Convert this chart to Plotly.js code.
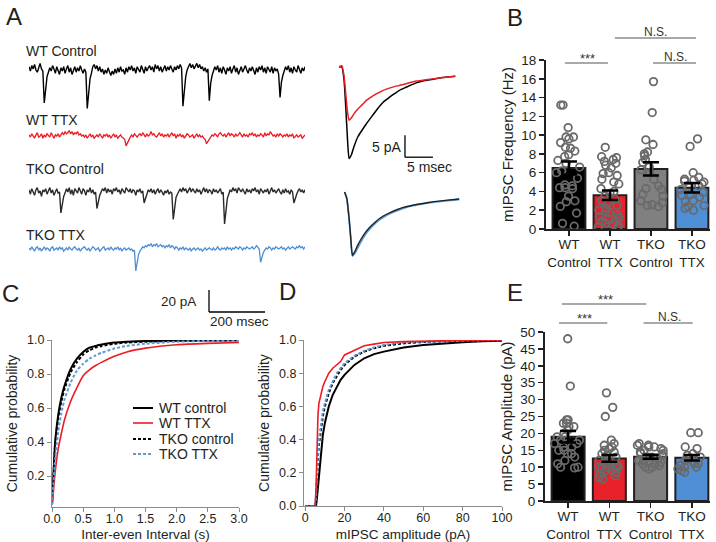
<!DOCTYPE html>
<html><head><meta charset="utf-8">
<script src="https://cdn.plot.ly/plotly-3.0.1.min.js"></script>
<style>html,body{margin:0;padding:0;background:#fff}#chart{width:716px;height:542px}</style>
</head><body><div id="chart"></div>
<script>
// ---------------- DATA ----------------
const groups = ['WT<br>Control', 'WT<br>TTX', 'TKO<br>Control', 'TKO<br>TTX'];

// Panel B: mIPSC frequency (Hz)
const freqWTControl = [13.2,13.2,10.8,9.8,9.8,9.6,9.2,8.7,8.6,8.3,7.9,7.7,7.3,7.0,6.6,6.2,6.0,5.4,4.7,4.6,4.4,4.4,4.3,3.5,3.0,2.9,2.4,1.7,0.6,0.3];
const freqWTTTX = [8.7,7.7,7.6,7.4,7.2,7.0,6.8,6.5,6.0,5.9,5.7,5.3,5.0,4.8,4.3,4.0,3.8,3.5,3.2,3.0,2.8,2.5,2.2,2.0,1.9,1.8,1.5,1.3,1.2,1.0,0.9,0.8,0.6,0.5,0.3,0.2,0.1];
const freqTKOControl = [15.7,12.4,9.5,9.0,8.2,8.0,7.8,7.4,7.1,6.6,6.3,6.0,5.3,4.6,4.3,4.2,3.7,3.5,3.0,2.8,2.6,2.5,2.4];
const freqTKOTTX = [9.6,8.8,6.0,5.5,5.3,5.2,5.1,5.0,4.8,4.6,4.4,4.2,3.9,3.7,3.6,3.4,3.0,2.9,2.5,2.4,2.2,2.0];
const freqMean = [6.5, 3.6, 6.4, 4.4];
const freqSem = [0.7, 0.5, 0.7, 0.5];

// Panel E: mIPSC amplitude (pA)
const ampWTControl = [48,34,24,24,23,23,22,22,21,20,19,19,18,18,17,17,16,16,15,15,14,14,13,12,11,10,10,9.8];
const ampWTTTX = [32,27.7,25,18,17,16.5,16,15.5,15,14.5,14,13.5,13,12,12,11,11,10.5,10,10,10,9.8,9.5,9,9,8.5,8,7.5,7,6.5];
const ampTKOControl = [17,16.5,16.5,16,16,15.5,15,15,14.5,14,14,13.5,13,13,12.5,12,12,11.5,11,11,10.5,10,10,9.5];
const ampTKOTTX = [20.2,20.2,16,15.5,14,13.5,13,12.5,12,11.5,11,11,10.5,10,10,9.5,9,8.5];
const ampMean = [19.0, 12.6, 13.1, 12.8];
const ampSem = [1.7, 1.0, 0.6, 0.8];

// Panel C: cumulative probability vs inter-event interval (s)
const iviX = [0,0.02,0.05,0.1,0.15,0.2,0.3,0.4,0.5,0.6,0.7,0.8,1.0,1.2,1.5,2.0,2.5,3.0];
const iviWTControl = [0.03,0.18,0.40,0.56,0.66,0.73,0.83,0.89,0.93,0.955,0.965,0.973,0.985,0.99,0.994,0.997,0.998,0.998];
const iviWTTTX = [0.03,0.10,0.22,0.36,0.45,0.53,0.64,0.72,0.79,0.825,0.85,0.87,0.905,0.93,0.952,0.972,0.98,0.985];
const iviTKOControl = [0.03,0.17,0.38,0.54,0.64,0.71,0.81,0.87,0.915,0.94,0.955,0.965,0.978,0.985,0.99,0.995,0.997,0.998];
const iviTKOTTX = [0.03,0.14,0.30,0.46,0.57,0.65,0.75,0.82,0.86,0.89,0.91,0.925,0.95,0.965,0.978,0.99,0.995,0.997];

// Panel D: cumulative probability vs amplitude (pA)
const ampX = [0,5,5.5,6,6.5,7,8,9,10,12,14,16,18,20,25,30,35,40,50,60,70,80,90,100];
const cumWTControl = [0,0,0,0.05,0.12,0.2,0.33,0.43,0.5,0.6,0.67,0.72,0.76,0.79,0.85,0.89,0.915,0.93,0.955,0.97,0.98,0.987,0.992,0.995];
const cumWTTTX = [0,0,0.1,0.4,0.55,0.62,0.68,0.72,0.75,0.8,0.83,0.85,0.87,0.91,0.94,0.965,0.975,0.985,0.99,0.994,0.996,0.998,0.999,1.0];
const cumTKOControl = [0,0,0.03,0.22,0.3,0.37,0.47,0.54,0.6,0.68,0.74,0.78,0.82,0.85,0.9,0.93,0.95,0.965,0.98,0.988,0.993,0.996,0.998,0.999];
const cumTKOTTX = [0,0,0.05,0.25,0.33,0.4,0.5,0.57,0.62,0.7,0.75,0.8,0.83,0.86,0.905,0.935,0.955,0.97,0.985,0.99,0.994,0.996,0.998,0.999];

// Panel A: raw current traces (pA), one sample every 5 ms
const sampleMs = 5;
const traceWTControl = [3,-1,4,1,5,0,-2,3,6,1,-1,-30,-14,-6,-2,2,-1,4,1,-3,
 3,0,-4,2,-1,3,-3,1,4,-2,2,-4,0,3,-2,2,-1,4,0,-3,
 1,-2,-35,-17,-8,-3,3,5,1,4,-1,3,-2,1,-4,0,-3,2,-2,-5,
 -1,-4,1,-3,2,-2,3,-1,0,-4,2,-2,3,0,4,-1,2,-3,3,0,
 -2,4,1,-3,3,-1,2,4,0,3,-2,5,1,4,-1,3,-2,2,4,-1,
 3,0,4,1,-2,3,0,4,1,5,2,-33,-15,-6,0,4,6,2,5,1,
 4,6,2,5,1,3,-1,2,-2,1,-28,-12,-5,-1,3,0,4,-2,2,-3,
 3,0,-4,2,-1,3,-3,1,4,-2,2,-4,0,3,-2,2,4,0,-3,2,
 -1,3,0,-4,2,-2,3,0,4,-2,2,-3,3,0,-2,3,-3,2,-1,1,
 -4,-25,-11,-5,-1,3,0,4,-2,2,-3,3,0,-2,4,0,-3,2,-1,3];
const traceWTTTX = [1,-1,2,0,-2,1,3,-1,0,2,-2,1,-1,2,0,-1,3,0,-2,1,
 0,2,-1,1,3,1,4,2,3,5,2,4,1,3,2,4,1,2,0,1,
 -1,1,-2,0,2,-1,1,-2,0,1,-1,2,0,-2,1,0,2,-1,1,-2,
 0,2,-1,1,-2,0,1,-1,-2,-3,-9,-6,-3,-1,1,-1,2,0,-1,1,
 2,0,3,1,-1,2,0,1,4,1,2,0,-1,1,3,0,2,-1,1,0,
 2,-1,1,3,0,2,-2,1,0,2,-1,1,-2,0,2,1,-1,0,1,-2,
 0,2,-1,1,-1,0,-2,-3,-7,-5,-3,-1,1,0,2,1,-1,2,3,1,
 0,2,-1,1,3,0,2,1,-1,2,0,1,3,1,-1,2,0,1,-1,2,
 1,3,0,2,-1,1,0,2,1,-1,3,0,2,1,4,2,0,1,-1,2,
 0,2,1,-1,1,0,2,-1,1,0,2,-2,0,1,-1,0,1,-2,0,1];
const traceTKOControl = [2,-2,3,0,-3,2,4,-1,1,-4,2,0,3,-2,1,4,-1,2,-3,1,
 3,-1,0,-19,-9,-4,-1,3,0,4,-2,2,-3,3,1,-1,4,0,-2,3,
 1,-3,2,0,4,-1,2,-2,0,-15,-7,-3,0,3,1,4,-1,3,0,2,
 -2,3,1,4,0,2,-2,3,1,-1,4,2,0,3,-1,2,1,-3,2,0,
 3,-1,1,-10,-5,-2,2,0,3,-1,2,-2,1,3,-1,2,0,-3,1,-1,
 2,-2,0,-1,-25,-12,-5,-2,1,3,0,4,1,3,-1,2,4,0,3,1,
 -1,3,0,2,-2,1,4,0,3,-1,2,1,-2,3,0,2,-1,1,3,-2,
 0,-29,-14,-6,-2,2,0,4,1,3,-1,4,2,0,3,1,-2,3,0,2,
 -1,3,1,4,0,2,-2,3,1,-1,2,0,3,-2,1,4,0,2,-1,1,
 3,0,-2,2,-1,3,0,1,-2,2,0,-10,-5,-2,1,3,0,2,-1,2];
const traceTKOTTX = [1,-1,2,0,-2,1,2,-1,1,-2,0,2,-1,1,0,-2,1,2,-1,0,
 1,-1,2,0,1,-2,0,1,-1,2,0,-1,1,2,0,-1,1,-2,0,1,
 2,0,-1,1,-2,0,2,1,-1,0,1,-2,0,1,2,-1,0,1,-1,2,
 0,-1,1,0,2,-1,1,-2,0,1,-1,0,1,-1,0,-2,-1,-20,-11,-5,
 -2,0,2,1,3,2,4,3,5,2,4,3,5,2,3,4,2,3,1,3,
 2,4,1,3,2,0,2,1,-1,1,0,2,-1,1,0,-1,1,-2,0,1,
 -1,0,1,-1,0,-2,0,1,-1,0,1,0,-1,1,-1,0,2,0,-1,1,
 0,1,-1,2,0,1,-1,1,0,2,1,0,2,1,-1,1,0,2,1,0,
 1,2,0,1,3,1,0,-12,-6,-3,-1,1,0,2,1,-1,1,0,2,1,
 0,1,2,0,1,-1,1,2,0,1,2,1,0,2,1,3,1,2,0,2];

// Panel A: averaged mIPSCs (time ms, current pA)
const avgTimeWT = [0,0.5,0.9,1.2,1.5,1.8,2.2,2.7,3.4,4.2,4.9,6,7,7.9,9,10,10.8,12,13.8,15,16.8,18.5,20.8];
const avgWTControl = [0,0,-3,-9,-16,-20.8,-20,-18,-15.8,-14.2,-12.9,-11,-9.3,-8.0,-6.9,-6.0,-5.3,-4.6,-3.6,-3.2,-2.8,-2.4,-2.1];
const avgWTTTX = [0,0.3,-2,-6,-10,-12.1,-11.6,-10.6,-9.5,-8.5,-7.6,-6.6,-5.9,-5.3,-4.8,-4.4,-4.2,-3.8,-3.2,-3.0,-2.7,-2.4,-2.1];
const avgTimeTKO = [1.0,1.4,1.8,2.1,2.4,2.8,3.3,3.9,4.6,5.5,6.5,7.5,8.6,10,11.5,13.2,15,17,19,21.5];
const avgTKOControl = [0,-1.5,-6,-10.5,-14.4,-13.6,-12.2,-10.8,-9.4,-8.0,-6.8,-5.8,-5.0,-4.2,-3.5,-3.0,-2.6,-2.2,-1.9,-1.6];
const avgTKOTTX = [0,-1.5,-6,-10.5,-14.6,-14.0,-12.8,-11.4,-9.9,-8.4,-7.1,-6.1,-5.2,-4.4,-3.7,-3.1,-2.7,-2.3,-2.0,-1.7];

// ---------------- STYLE / LAYOUT HELPERS ----------------
const W = 716, H = 542;
const px = v => v / W;
const py = v => 1 - v / H;
const FONT = 'Liberation Sans, Arial, Helvetica, sans-serif';
const TXT = '#231f20';
const BAR_COLORS = ['#000000', '#e8212a', '#808080', '#4f8fd6'];
const DOT = '#6a6a6a';
const BLUE = '#5b9bd5';

function rowAxis(basePx, upPx, downPx, pxPerUnit) {
  return {domain: [py(basePx + downPx), py(basePx - upPx)],
          range: [-downPx / pxPerUnit, upPx / pxPerUnit], visible: false, fixedrange: true};
}
const timeOf = arr => arr.map((_, i) => i * sampleMs);

function barPanel(xa, ya, means, sems, groupsVals) {
  const out = [];
  out.push({type: 'bar', x: groups, y: means, xaxis: xa, yaxis: ya, width: 0.8,
    marker: {color: BAR_COLORS, line: {color: TXT, width: 2}}, hoverinfo: 'skip'});
  const bx = [], by = [];
  groupsVals.forEach((vals, gi) => vals.forEach(v => { bx.push(groups[gi]); by.push(v); }));
  out.push({type: 'box', x: bx, y: by, xaxis: xa, yaxis: ya, boxpoints: 'all', jitter: 0.85, pointpos: 0, width: 0.8,
    fillcolor: 'rgba(0,0,0,0)', line: {width: 0, color: 'rgba(0,0,0,0)'},
    marker: {symbol: 'circle-open', size: 7.5, color: DOT, line: {width: 1.8, color: DOT}}, hoverinfo: 'skip'});
  out.push({type: 'scatter', mode: 'markers', x: groups, y: means, xaxis: xa, yaxis: ya,
    marker: {size: 1, color: 'rgba(0,0,0,0)'},
    error_y: {type: 'data', array: sems, visible: true, color: '#000', thickness: 2.5, width: 8}, hoverinfo: 'skip'});
  return out;
}

const traces = [];
// Panel B and E
traces.push(...barPanel('x', 'y', freqMean, freqSem, [freqWTControl, freqWTTTX, freqTKOControl, freqTKOTTX]));
traces.push(...barPanel('x4', 'y4', ampMean, ampSem, [ampWTControl, ampWTTTX, ampTKOControl, ampTKOTTX]));

// Panel C
const cumStyles = [
  {color: '#000', width: 2, dash: 'solid'},
  {color: '#ed1c24', width: 1.6, dash: 'solid'},
  {color: '#000', width: 2, dash: '3px,2px'},
  {color: BLUE, width: 2, dash: '3px,2px'}
];
[iviWTControl, iviWTTTX, iviTKOControl, iviTKOTTX].forEach((ys, i) => {
  traces.push({type: 'scatter', mode: 'lines', x: iviX, y: ys, xaxis: 'x2', yaxis: 'y2',
    line: Object.assign({shape: 'spline', smoothing: 0.6}, cumStyles[i]), hoverinfo: 'skip'});
});
// Panel D
[cumWTControl, cumTKOControl, cumTKOTTX, cumWTTTX].forEach((ys, k) => {
  const i = [0, 2, 3, 1][k];
  traces.push({type: 'scatter', mode: 'lines', x: ampX, y: ys, xaxis: 'x3', yaxis: 'y3',
    line: Object.assign({}, cumStyles[i]), hoverinfo: 'skip'});
});

// Panel A raw traces
const rawSets = [
  [traceWTControl, '#000000', 'y5', 1.4],
  [traceWTTTX, '#ed1c24', 'y6', 1.3],
  [traceTKOControl, '#2a2a2a', 'y7', 1.4],
  [traceTKOTTX, '#4d8fd4', 'y8', 1.3]
];
rawSets.forEach(([arr, col, ya, lw]) => {
  traces.push({type: 'scatter', mode: 'lines', x: timeOf(arr), y: arr, xaxis: 'x5', yaxis: ya,
    line: {color: col, width: lw}, hoverinfo: 'skip'});
});
// averaged traces
traces.push({type: 'scatter', mode: 'lines', x: avgTimeWT, y: avgWTControl, xaxis: 'x6', yaxis: 'y9',
  line: {color: '#000', width: 1.5, shape: 'spline', smoothing: 0.5}, hoverinfo: 'skip'});
traces.push({type: 'scatter', mode: 'lines', x: avgTimeWT, y: avgWTTTX, xaxis: 'x6', yaxis: 'y9',
  line: {color: '#ed1c24', width: 1.5, shape: 'spline', smoothing: 0.5}, hoverinfo: 'skip'});
traces.push({type: 'scatter', mode: 'lines', x: avgTimeTKO, y: avgTKOTTX, xaxis: 'x6', yaxis: 'y10',
  line: {color: BLUE, width: 1.8, shape: 'spline', smoothing: 0.5}, hoverinfo: 'skip'});
traces.push({type: 'scatter', mode: 'lines', x: avgTimeTKO, y: avgTKOControl, xaxis: 'x6', yaxis: 'y10',
  line: {color: '#222', width: 1.4, shape: 'spline', smoothing: 0.5}, hoverinfo: 'skip'});

// ---------------- AXES ----------------
const barX = dom => ({domain: dom, type: 'category', range: [-0.56, 3.44], showline: true, linecolor: TXT,
  linewidth: 2, ticks: 'outside', ticklen: 5, tickwidth: 1.5, tickcolor: TXT, showgrid: false, zeroline: false,
  tickangle: 0, ticklabelstandoff: -3, tickfont: {size: 13.5, color: TXT}, fixedrange: true});
const barY = (dom, range, dtick, title) => ({domain: dom, range: range, dtick: dtick, showline: true, linecolor: TXT,
  linewidth: 2, ticks: 'outside', ticklen: 5, tickwidth: 1.5, tickcolor: TXT, showgrid: false, zeroline: false,
  tickfont: {size: 13.5, color: TXT}, title: {text: title, font: {size: 15, color: TXT}, standoff: 4}, fixedrange: true});
const cumAx = (dom, extra) => Object.assign({domain: dom, showline: true, linecolor: '#8c8c8c', linewidth: 1,
  ticks: 'outside', ticklen: 4, tickcolor: '#8c8c8c', showgrid: false, zeroline: false,
  tickfont: {size: 12.5, color: TXT}, fixedrange: true}, extra);

const layout = {
  width: W, height: H, margin: {l: 0, r: 0, t: 0, b: 0}, paper_bgcolor: '#fff', plot_bgcolor: 'rgba(0,0,0,0)',
  showlegend: false, font: {family: FONT, color: TXT},
  barmode: 'group', boxmode: 'overlay',
  xaxis: Object.assign(barX([px(546), px(710)]), {anchor: 'y'}),
  yaxis: Object.assign(barY([py(229), py(60)], [0, 18], 2, 'mIPSC Frequency (Hz)'), {anchor: 'x'}),
  xaxis4: Object.assign(barX([px(545), px(710)]), {anchor: 'y4'}),
  yaxis4: Object.assign(barY([py(501), py(332)], [0, 50], 5, 'mIPSC Amplitude (pA)'), {anchor: 'x4'}),
  xaxis2: cumAx([px(52), px(239)], {anchor: 'y2', range: [0, 3], dtick: 0.5, tickformat: '.1f', ticklabelstandoff: -4,
    title: {text: 'Inter-even Interval (s)', font: {size: 13.5, color: TXT}, standoff: 6}}),
  yaxis2: cumAx([py(507), py(340)], {anchor: 'x2', range: [0.018, 1.0], tickvals: [0.2, 0.4, 0.6, 0.8, 1.0], tickformat: '.1f',
    title: {text: 'Cumulative probability', font: {size: 14, color: TXT}, standoff: 6}}),
  xaxis3: cumAx([px(304), px(502)], {anchor: 'y3', range: [-0.6, 100], tickvals: [0, 20, 40, 60, 80, 100], ticklabelstandoff: -4,
    title: {text: 'mIPSC amplitude (pA)', font: {size: 13.5, color: TXT}, standoff: 6}}),
  yaxis3: cumAx([py(506), py(340)], {anchor: 'x3', range: [0, 1.0], dtick: 0.2, tickformat: '.1f',
    title: {text: 'Cumulative probability', font: {size: 14, color: TXT}, standoff: 6}}),
  xaxis5: {domain: [px(29), px(305)], range: [0, 995], visible: false, anchor: 'y5', fixedrange: true},
  yaxis5: Object.assign(rowAxis(70, 16, 40, 1.1), {anchor: 'x5'}),
  yaxis6: Object.assign(rowAxis(136, 16, 30, 1.1), {anchor: 'x5'}),
  yaxis7: Object.assign(rowAxis(192, 16, 38, 1.1), {anchor: 'x5'}),
  yaxis8: Object.assign(rowAxis(249, 16, 32, 1.1), {anchor: 'x5'}),
  xaxis6: {domain: [px(337.9), px(462)], range: [-0.2, 22], visible: false, anchor: 'y9', fixedrange: true},
  yaxis9: Object.assign(rowAxis(67, 8, 98, 4.4), {anchor: 'x6'}),
  yaxis10: Object.assign(rowAxis(192, 8, 70, 4.4), {anchor: 'x6'}),
  shapes: [], annotations: []
};

const S = layout.shapes, A = layout.annotations;
const line = (x0, y0, x1, y1, col, w, dash) => S.push({type: 'line', xref: 'paper', yref: 'paper',
  x0: px(x0), y0: py(y0), x1: px(x1), y1: py(y1), line: {color: col, width: w, dash: dash || 'solid'}});
const text = (t, x, y, size, anchor, col) => A.push({text: t, xref: 'paper', yref: 'paper', x: px(x), y: py(y),
  xanchor: anchor || 'center', yanchor: 'middle', showarrow: false, font: {size: size, color: col || TXT, family: FONT}});
const sig = (xa, c0, c1, yPx) => S.push({type: 'line', xref: xa, yref: 'paper', x0: c0, x1: c1, y0: py(yPx), y1: py(yPx),
  line: {color: '#555', width: 1.2}});

// panel letters
text('A', 14, 16, 24); text('B', 515, 18, 24); text('C', 10, 293, 24); text('D', 287, 291, 24); text('E', 515, 292, 24);
// trace labels
text('WT Control', 24, 51, 14, 'left'); text('WT TTX', 24, 120, 14, 'left');
text('TKO Control', 24, 169, 14, 'left'); text('TKO TTX', 24, 235, 14, 'left');
// 20 pA / 200 msec scale bar
line(209, 290, 209, 312, '#000', 1.3); line(209, 312, 265, 312, '#000', 1.3);
text('20 pA', 198, 301, 13.5, 'right'); text('200 msec', 208, 322, 13.5, 'left');
// 5 pA / 5 msec scale bar (in averaged-trace data units)
S.push({type: 'line', xref: 'x6', yref: 'y9', x0: 11.8, x1: 11.8, y0: -15.5, y1: -20.5, line: {color: '#000', width: 1.3}});
S.push({type: 'line', xref: 'x6', yref: 'y9', x0: 11.8, x1: 16.8, y0: -20.5, y1: -20.5, line: {color: '#000', width: 1.3}});
text('5 pA', 403, 147, 14, 'right'); text('5 msec', 405, 167, 14, 'left');
// significance marks B
sig('x', -0.1, 0.95, 63); text('***', 587, 58, 13, 'center', '#333');
sig('x', 1.12, 3.1, 38); text('N.S.', 655, 32, 12, 'center', '#333');
sig('x', 2.05, 3.1, 63); text('N.S.', 675, 57, 12, 'center', '#333');
// significance marks E
sig('x4', -0.15, 1.9, 304); text('***', 605, 299, 13, 'center', '#333');
sig('x4', -0.22, 0.95, 323); text('***', 584, 318, 13, 'center', '#333');
sig('x4', 1.83, 3.02, 323); text('N.S.', 669, 317, 12, 'center', '#333');
// legend for C
const legRows = [408, 423, 439, 454];
const legNames = ['WT control', 'WT TTX', 'TKO control', 'TKO TTX'];
legRows.forEach((yy, i) => {
  line(133, yy, 153, yy, cumStyles[i].color, cumStyles[i].width, cumStyles[i].dash);
  text(legNames[i], 157, yy, 14, 'left');
});

Plotly.newPlot('chart', traces, layout, {staticPlot: true});
</script></body></html>
